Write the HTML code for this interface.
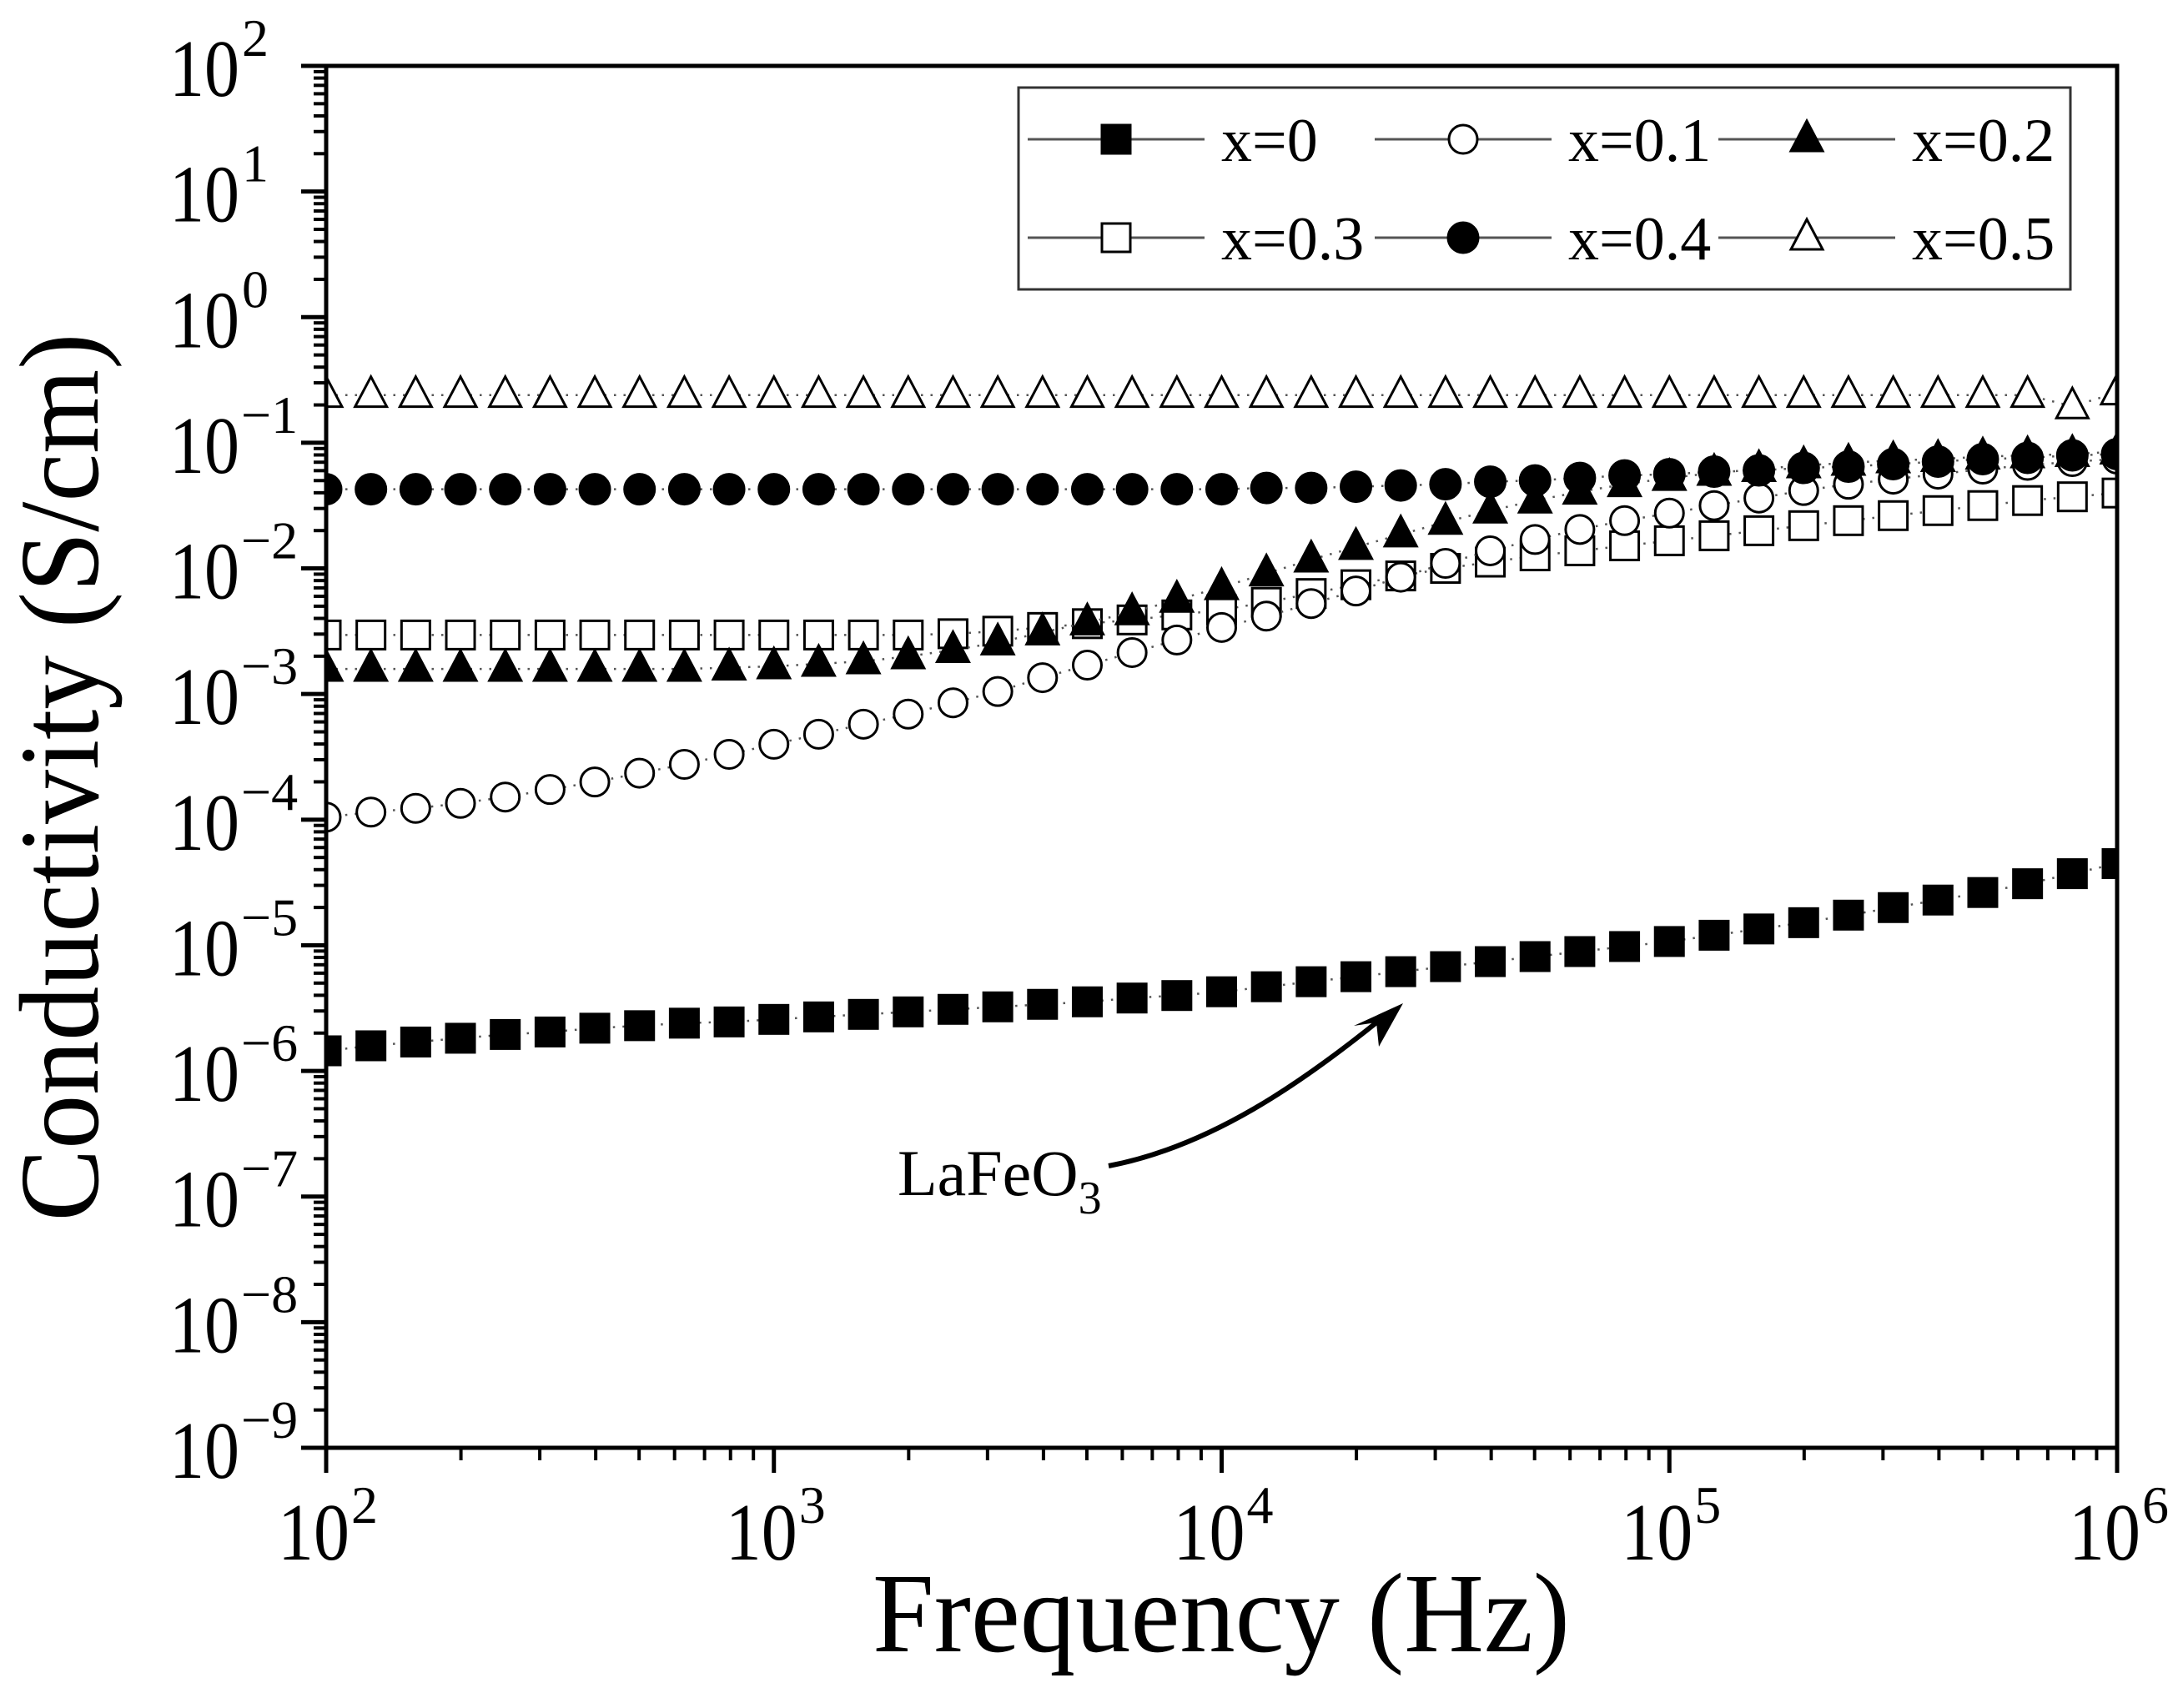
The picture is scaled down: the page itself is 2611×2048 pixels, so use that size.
<!DOCTYPE html>
<html><head><meta charset="utf-8"><style>
html,body{margin:0;padding:0;background:#fff;}
svg{display:block;font-family:"Liberation Serif",serif;}
</style></head><body>
<svg id="chart" width="2611" height="2048" viewBox="0 0 2611 2048" xmlns="http://www.w3.org/2000/svg">
<rect x="0" y="0" width="2611" height="2048" fill="#fff"/>
<g id="marks"></g>
<g id="axes"></g>
<g>
<rect x="1221" y="105" width="1261" height="242" fill="#fff" stroke="#333" stroke-width="3"/>
<g id="legend"></g>
</g>
<g>
<text x="1076" y="1433" font-size="78">LaFeO<tspan font-size="56" dy="22">3</tspan></text>
<path d="M1329,1398 C1450,1375 1560,1300 1665,1214" fill="none" stroke="#000" stroke-width="6"/>
<path d="M1682,1203 L1623,1230 L1650,1226 L1653,1255 Z" fill="#000"/>
</g>
<text x="1464" y="1980" font-size="136" text-anchor="middle" textLength="836" lengthAdjust="spacingAndGlyphs">Frequency (Hz)</text>
<text transform="translate(117,932) rotate(-90)" x="0" y="0" font-size="136" text-anchor="middle" textLength="1065" lengthAdjust="spacingAndGlyphs">Conductivity (S/cm)</text>
</svg>
<script>
const freqExp = [2.0,2.1,2.2,2.3,2.4,2.5,2.6,2.7,2.8,2.9,3.0,3.1,3.2,3.3,3.4,3.5,3.6,3.7,3.8,3.9,4.0,4.1,4.2,4.3,4.4,4.5,4.6,4.7,4.8,4.9,5.0,5.1,5.2,5.3,5.4,5.5,5.6,5.7,5.8,5.9,6.0];
const logX0 = [-5.84,-5.80,-5.77,-5.74,-5.71,-5.69,-5.66,-5.64,-5.62,-5.61,-5.59,-5.57,-5.55,-5.53,-5.51,-5.49,-5.47,-5.45,-5.42,-5.40,-5.37,-5.33,-5.29,-5.25,-5.21,-5.17,-5.13,-5.09,-5.05,-5.01,-4.97,-4.92,-4.87,-4.82,-4.76,-4.70,-4.64,-4.58,-4.51,-4.43,-4.35];
const logX01 = [-3.98,-3.94,-3.91,-3.87,-3.82,-3.76,-3.70,-3.63,-3.56,-3.48,-3.40,-3.32,-3.24,-3.16,-3.07,-2.98,-2.87,-2.77,-2.67,-2.57,-2.47,-2.38,-2.28,-2.18,-2.07,-1.96,-1.86,-1.77,-1.69,-1.62,-1.56,-1.50,-1.44,-1.38,-1.33,-1.29,-1.25,-1.21,-1.18,-1.15,-1.13];
const logX02 = [-2.80,-2.80,-2.80,-2.80,-2.80,-2.80,-2.80,-2.80,-2.80,-2.79,-2.78,-2.76,-2.74,-2.70,-2.65,-2.59,-2.51,-2.43,-2.35,-2.25,-2.15,-2.04,-1.93,-1.83,-1.73,-1.63,-1.54,-1.46,-1.39,-1.33,-1.28,-1.24,-1.21,-1.18,-1.16,-1.14,-1.13,-1.11,-1.10,-1.09,-1.07];
const logX03 = [-2.53,-2.53,-2.53,-2.53,-2.53,-2.53,-2.53,-2.53,-2.53,-2.53,-2.53,-2.53,-2.53,-2.53,-2.52,-2.50,-2.47,-2.44,-2.41,-2.37,-2.33,-2.27,-2.20,-2.13,-2.06,-2.00,-1.95,-1.90,-1.86,-1.82,-1.78,-1.74,-1.70,-1.66,-1.62,-1.58,-1.54,-1.50,-1.46,-1.43,-1.40];
const logX04 = [-1.37,-1.37,-1.37,-1.37,-1.37,-1.37,-1.37,-1.37,-1.37,-1.37,-1.37,-1.37,-1.37,-1.37,-1.37,-1.37,-1.37,-1.37,-1.37,-1.37,-1.37,-1.36,-1.36,-1.35,-1.34,-1.33,-1.31,-1.30,-1.28,-1.26,-1.25,-1.23,-1.22,-1.20,-1.19,-1.17,-1.15,-1.13,-1.12,-1.10,-1.09];
const logX05 = [-0.62,-0.62,-0.62,-0.62,-0.62,-0.62,-0.62,-0.62,-0.62,-0.62,-0.62,-0.62,-0.62,-0.62,-0.62,-0.62,-0.62,-0.62,-0.62,-0.62,-0.62,-0.62,-0.62,-0.62,-0.62,-0.62,-0.62,-0.62,-0.62,-0.62,-0.62,-0.62,-0.62,-0.62,-0.62,-0.62,-0.62,-0.62,-0.62,-0.71,-0.60];
const seriesLabels = ["x=0","x=0.1","x=0.2","x=0.3","x=0.4","x=0.5"];
const xTickExps = [2,3,4,5,6];
const yTickExps = [2,1,0,-1,-2,-3,-4,-5,-6,-7,-8,-9];

const NS="http://www.w3.org/2000/svg";
const L=391,R=2538,T=79,B=1736;
const XMIN=2,XMAX=6,YMIN=-9,YMAX=2;
function sx(e){return L+(e-XMIN)/(XMAX-XMIN)*(R-L);}
function sy(e){return B-(e-YMIN)/(YMAX-YMIN)*(B-T);}
function mk(tag,attrs,parent){const el=document.createElementNS(NS,tag);for(const k in attrs)el.setAttribute(k,attrs[k]);parent.appendChild(el);return el;}

const marks=document.getElementById('marks');
const axes=document.getElementById('axes');

function marker(type,x,y,parent){
  const s=17;let el;
  if(type==='fsq'||type==='osq'){el=mk('rect',{x:x-s,y:y-s,width:2*s,height:2*s,fill:type==='fsq'?'#000':'#fff',stroke:'#000','stroke-width':3},parent);}
  else if(type==='fci'||type==='oci'){el=mk('circle',{cx:x,cy:y,r:type==='fci'?18:17,fill:type==='fci'?'#000':'#fff',stroke:'#000','stroke-width':3},parent);}
  else{el=mk('path',{d:`M${x},${y-22} L${x+19},${y+14} L${x-19},${y+14} Z`,fill:type==='ftr'?'#000':'#fff',stroke:'#000','stroke-width':3,'stroke-linejoin':'miter'},parent);}
  return el;
}
const series=[
  {vals:logX0,type:'fsq',name:'series-x0'},
  {vals:logX03,type:'osq',name:'series-x03'},
  {vals:logX02,type:'ftr',name:'series-x02'},
  {vals:logX01,type:'oci',name:'series-x01'},
  {vals:logX04,type:'fci',name:'series-x04'},
  {vals:logX05,type:'otr',name:'series-x05'}
];
const clip=mk('clipPath',{id:'pclip'},mk('defs',{},document.getElementById('chart')));
mk('rect',{x:L,y:T,width:R-L,height:B-T},clip);
marks.setAttribute('clip-path','url(#pclip)');
series.forEach(s=>{
  const g=mk('g',{},marks);
  
  
  const pts=freqExp.map((f,i)=>sx(f).toFixed(1)+','+sy(s.vals[i]).toFixed(1)).join(' ');
  const ln=mk('polyline',{points:pts,fill:'none',stroke:'#555','stroke-width':2.5,'stroke-dasharray':'2.5 9'},g);
  
  
  freqExp.forEach((f,i)=>{
    const m=marker(s.type,sx(f),sy(s.vals[i]),g);
    
    
  });
});

const frame=mk('rect',{x:L,y:T,width:R-L,height:B-T,fill:'none',stroke:'#000','stroke-width':5},axes);



for(let d=YMIN;d<=YMAX;d++){
  const y=sy(d);
  const t=mk('line',{x1:L-30,x2:L,y1:y,y2:y,stroke:'#000','stroke-width':5},axes);
  
  
  if(d<YMAX){for(let m=2;m<=9;m++){const yy=sy(d+Math.log10(m));
    const mt=mk('line',{x1:L-15,x2:L,y1:yy,y2:yy,stroke:'#000','stroke-width':4},axes);
    
    }}
}
yTickExps.forEach(e=>{
  const y=sy(e);
  const base=mk('text',{x:203,y:y+36,'font-size':98,textLength:84,lengthAdjust:'spacingAndGlyphs'},axes);
  base.textContent='10';
  
  
  const ex=mk('text',{x:e<0?289:290,y:y-12,'font-size':64},axes);
  ex.textContent=e<0?'\u2212'+(-e):String(e);
  
  
});
for(let d=XMIN;d<=XMAX;d++){
  const x=sx(d);
  const t=mk('line',{x1:x,x2:x,y1:B,y2:B+30,stroke:'#000','stroke-width':5},axes);
  
  
  if(d<XMAX){for(let m=2;m<=9;m++){const xx=sx(d+Math.log10(m));
    const mt=mk('line',{x1:xx,x2:xx,y1:B,y2:B+15,stroke:'#000','stroke-width':4},axes);
    
    }}
}
xTickExps.forEach(e=>{
  const x=sx(e);
  const base=mk('text',{x:x-58,y:1870,'font-size':98,textLength:86,lengthAdjust:'spacingAndGlyphs'},axes);
  base.textContent='10';
  
  
  const ex=mk('text',{x:x+30,y:1826,'font-size':64},axes);
  ex.textContent=String(e);
  
  
});

const leg=document.getElementById('legend');
const legTypes=['fsq','oci','ftr','osq','fci','otr'];
const colX=[1232,1648,2060];
const rowY=[167,285];
seriesLabels.forEach((lab,i)=>{
  const cx=colX[i%3], cy=rowY[Math.floor(i/3)];
  const g=mk('g',{},leg);
  
  
  mk('line',{x1:cx,x2:cx+212,y1:cy,y2:cy,stroke:'#555','stroke-width':3},g);
  marker(legTypes[i],cx+106,cy,g);
  const t=mk('text',{x:cx+232,y:cy+26,'font-size':74},g);
  t.textContent=lab;
});
</script>
</body></html>
